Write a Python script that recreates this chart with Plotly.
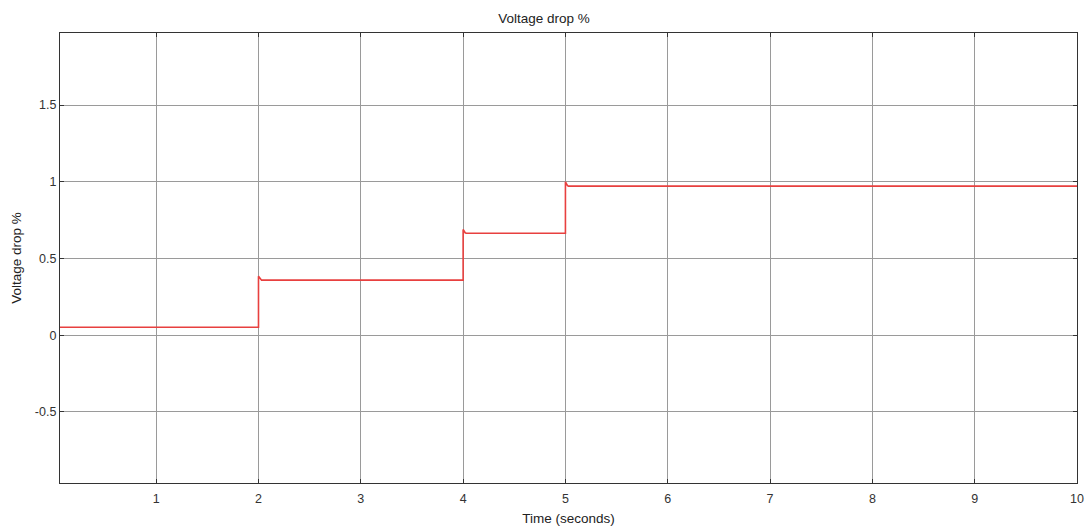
import plotly.graph_objects as go

time_s = [0.0, 2.0, 2.0, 2.02, 2.03, 4.0, 4.0, 4.02, 4.03, 5.0, 5.0, 5.02, 5.03, 10.0]
voltage_drop = [0.052, 0.052, 0.385, 0.362, 0.359, 0.359, 0.69, 0.668, 0.665, 0.665, 1.0, 0.975, 0.972, 0.972]

x_ticks = [1, 2, 3, 4, 5, 6, 7, 8, 9, 10]
y_ticks = [-0.5, 0, 0.5, 1, 1.5]
y_tick_text = ["-0.5", "0", "0.5", "1", "1.5"]

fig = go.Figure()
fig.add_trace(go.Scatter(x=time_s, y=voltage_drop, mode="lines",
                         line=dict(color="#e8403f", width=1.6), showlegend=False))

font = "Liberation Sans, Arial, sans-serif"
fig.update_layout(
    width=1088, height=529,
    margin=dict(l=60, r=11, t=33, b=46, autoexpand=False),
    paper_bgcolor="white", plot_bgcolor="white",
    font=dict(family=font, size=12.5, color="#333333"),
    title=dict(text="Voltage drop %", x=0.5, xref="container", xanchor="center", y=0.966, yanchor="middle",
               font=dict(family=font, size=13.5, color="#222222")),
    xaxis=dict(range=[0.06, 10], tickvals=x_ticks, ticks="inside", ticklen=4, ticklabelstandoff=4,
               automargin=False, ticklabeloverflow="allow",
               tickcolor="#333333", showgrid=True, gridcolor="#9a9a9a", gridwidth=1,
               zeroline=False, showline=True, linecolor="#333333", linewidth=1.2, mirror="ticks",
               title=dict(text="Time (seconds)", standoff=8, font=dict(size=13.5, color="#222222"))),
    yaxis=dict(range=[-0.963, 1.97], tickvals=y_ticks, ticktext=y_tick_text, ticks="inside", ticklen=4,
               automargin=False,
               tickcolor="#333333", showgrid=True, gridcolor="#9a9a9a", gridwidth=1,
               zeroline=False, showline=True, linecolor="#333333", linewidth=1.2, mirror="ticks",
               title=dict(text="Voltage drop %", standoff=10, font=dict(size=13.5, color="#222222"))),
)

fig.write_html("out.html")
